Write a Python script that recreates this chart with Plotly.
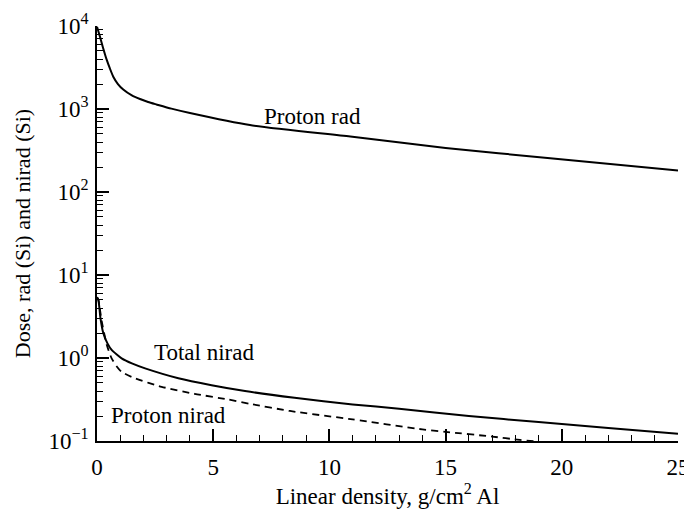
import math
import plotly.graph_objects as go

# Proton rad (solid)
x_prad = [0, 0.13, 0.25, 0.42, 0.55, 0.7, 0.9, 1.13, 1.5, 1.85, 2.2, 2.56, 3.2, 4, 6.58, 10.9, 15, 19.5, 25]
y_prad = [9800, 7400, 5600, 3900, 3100, 2450, 2000, 1720, 1460, 1320, 1215, 1135, 1010, 895, 640, 465, 340, 255, 181]

# Total nirad (solid)
x_tnir = [0, 0.06, 0.15, 0.27, 0.45, 0.63, 0.85, 1.06, 1.5, 2.07, 3.5, 4.93, 6.37, 8.5, 11, 13, 16, 19, 22, 25]
y_tnir = [5.4, 5.0, 3.0, 2.0, 1.5, 1.25, 1.1, 0.99, 0.86, 0.75, 0.57, 0.47, 0.40, 0.332, 0.276, 0.245, 0.200, 0.169, 0.143, 0.122]

# Proton nirad (dashed)
x_pnir = [0, 0.06, 0.2, 0.42, 0.63, 0.85, 1.06, 1.63, 2.78, 4.2, 5.65, 6.6, 8.3, 11, 14, 15, 17, 18.2, 19]
y_pnir = [5.4, 5.0, 2.8, 1.44, 0.99, 0.79, 0.68, 0.57, 0.45, 0.37, 0.316, 0.28, 0.23, 0.182, 0.138, 0.129, 0.113, 0.103, 0.098]

labels = ["Proton rad", "Total nirad", "Proton nirad"]
label_x = [7.1, 2.35, 0.5]
label_y = [810, 1.15, 0.205]

y_tickvals = [0.1, 1, 10, 100, 1000, 10000]
y_ticktext = ["10<sup>\u22121</sup>", "10<sup>0</sup>", "10<sup>1</sup>", "10<sup>2</sup>", "10<sup>3</sup>", "10<sup>4</sup>"]
x_tickvals = [0, 5, 10, 15, 20, 25]
x_ticktext = ["0", "5", "10", "15", "20", "25"]

FONT = "Liberation Serif"

fig = go.Figure()
fig.add_trace(go.Scatter(x=x_prad, y=y_prad, mode="lines",
                         line=dict(color="black", width=2, shape="spline", smoothing=0.6), name=labels[0]))
fig.add_trace(go.Scatter(x=x_tnir, y=y_tnir, mode="lines",
                         line=dict(color="black", width=2, shape="spline", smoothing=0.6), name=labels[1]))
fig.add_trace(go.Scatter(x=x_pnir, y=y_pnir, mode="lines",
                         line=dict(color="black", width=1.8, dash="7px,5px", shape="spline", smoothing=0.6), name=labels[2]))

for t, lx, ly in zip(labels, label_x, label_y):
    fig.add_annotation(x=lx, y=math.log10(ly), xref="x", yref="y", text=t, showarrow=False,
                       xanchor="left", yanchor="middle",
                       font=dict(family=FONT, size=23, color="black"))

# page body has an 8px margin, so the figure is 8px smaller than the window
fig.update_layout(
    width=684, height=504,
    margin=dict(l=89, r=14, t=18, b=71),
    paper_bgcolor="white", plot_bgcolor="white",
    showlegend=False,
    font=dict(family=FONT, size=23, color="black"),
    xaxis=dict(
        range=[0, 25], tickmode="array", tickvals=x_tickvals, ticktext=x_ticktext,
        ticks="inside", ticklen=12, tickwidth=1.5, tickcolor="black",
        minor=dict(dtick=1, tick0=0, ticks="inside", ticklen=6, tickwidth=1.3, tickcolor="black"),
        showline=True, linecolor="black", linewidth=1.5, mirror=False,
        showgrid=False, zeroline=False, automargin=False,
        ticklabelstandoff=5,
        tickfont=dict(family=FONT, size=23),
        title=dict(text="Linear density, g/cm<sup>2</sup> Al", font=dict(family=FONT, size=23), standoff=3),
    ),
    yaxis=dict(
        type="log", range=[-1, 4], tickmode="array", tickvals=y_tickvals, ticktext=y_ticktext,
        ticks="inside", ticklen=12, tickwidth=1.5, tickcolor="black",
        minor=dict(ticks="inside", ticklen=6, tickwidth=1.3, tickcolor="black", dtick="D1"),
        showline=True, linecolor="black", linewidth=1.5, mirror=False,
        showgrid=False, zeroline=False, automargin=False,
        ticklabelstandoff=2,
        tickfont=dict(family=FONT, size=23),
        title=dict(text="Dose, rad (Si) and nirad (Si)", font=dict(family=FONT, size=22), standoff=12),
    ),
)

fig.write_html("out.html")
